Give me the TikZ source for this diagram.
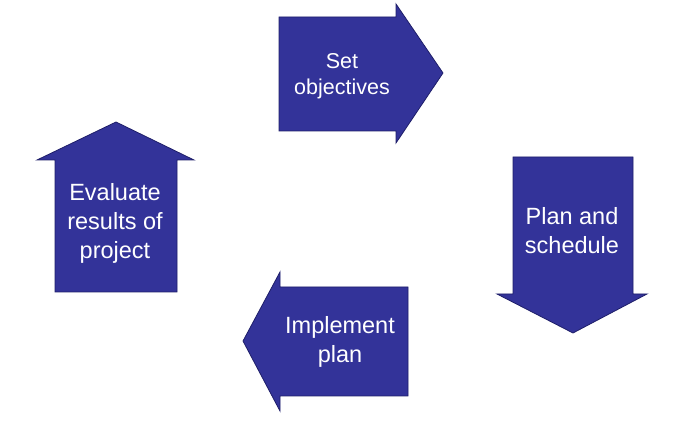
\documentclass[tikz,border=0pt]{standalone}
\usepackage{fontspec}
\setmainfont{Liberation Sans}
\usepackage{tikz}
\definecolor{arrowblue}{RGB}{51,51,153}
\definecolor{arrowedge}{RGB}{30,30,105}

\begin{document}
\begin{tikzpicture}[x=1pt,y=-1pt,
   block/.style={fill=arrowblue,draw=arrowedge,line width=0.8pt,line join=miter},
   label/.style={text=white,align=center,font=\fontsize{23.5}{29}\selectfont}]
   \useasboundingbox (0,0) rectangle (694,430);

   % set objectives (right)
   \draw[block] (279,17) -- (396,17) -- (396,4) -- (443,73) -- (396,143) -- (396,131) -- (279,131) -- cycle;
   \node[label,font=\fontsize{21.5}{26}\selectfont] (setobj) at (342,76) {Set\\objectives};

   % plan and schedule (down)
   \draw[block] (513,157) -- (633,157) -- (633,294) -- (647,294) -- (573,333) -- (497,294) -- (513,294) -- cycle;
   \node[label] (plan) at (572,231) {Plan and\\schedule};

   % implement plan (left)
   \draw[block] (408,287) -- (408,396) -- (280,396) -- (280,411) -- (243,341) -- (280,272) -- (280,287) -- cycle;
   \node[label] (impl) at (340,342) {Implement\\plan};

   % evaluate results (up)
   \draw[block] (55,292) -- (177,292) -- (177,160) -- (194,160) -- (116,122) -- (37,160) -- (55,160) -- cycle;
   \node[label] (eval) at (115,223) {Evaluate\\results of\\project};

 \end{tikzpicture}
\end{document}
